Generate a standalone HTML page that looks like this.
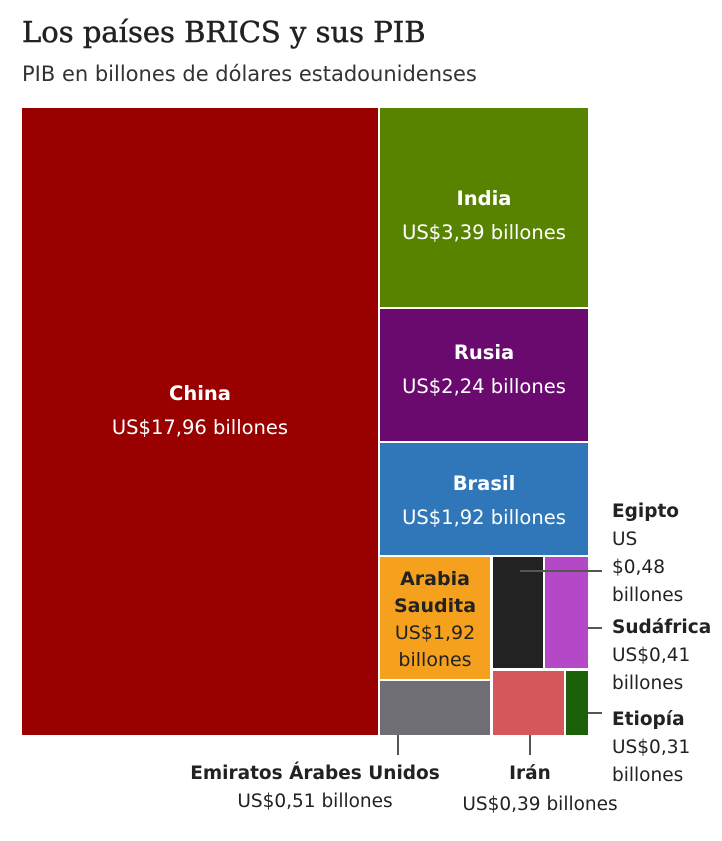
<!DOCTYPE html>
<html><head><meta charset="utf-8"><style>
body{margin:0;width:722px;height:841px;background:#fff;font-family:"DejaVu Sans",sans-serif;position:relative;overflow:hidden;color:#222}
.a{position:absolute}
.r{position:absolute;}
.t{position:absolute;text-align:center;font-size:19.5px;line-height:34px}
.b{font-weight:bold}
.lab{position:absolute;font-size:18.5px;line-height:28px;color:#222}
.ln{position:absolute;background:#555}
</style></head><body>
<div class="a" style="left:22px;top:15px;font-family:'DejaVu Serif',serif;font-size:29px;color:#222;-webkit-text-stroke:0.5px #222">Los países BRICS y sus PIB</div>
<div class="a" style="left:22px;top:62px;font-size:21px;color:#333">PIB en billones de dólares estadounidenses</div>

<div class="r" style="left:22px;top:108px;width:356px;height:627px;background:#990000"></div>
<div class="t" style="left:22px;top:377px;width:356px;color:#fff"><span class="b">China</span><br>US$17,96 billones</div>

<div class="r" style="left:380px;top:108px;width:208px;height:199px;background:#588300"></div>
<div class="t" style="left:380px;top:182px;width:208px;color:#fff"><span class="b">India</span><br>US$3,39 billones</div>

<div class="r" style="left:380px;top:309px;width:208px;height:132px;background:#6a0a6e"></div>
<div class="t" style="left:380px;top:336px;width:208px;color:#fff"><span class="b">Rusia</span><br>US$2,24 billones</div>

<div class="r" style="left:380px;top:443px;width:208px;height:112px;background:#2f77b8"></div>
<div class="t" style="left:380px;top:467px;width:208px;color:#fff"><span class="b">Brasil</span><br>US$1,92 billones</div>

<div class="r" style="left:380px;top:557px;width:110px;height:122px;background:#f5a11e"></div>
<div class="a" style="left:380px;top:566px;width:110px;text-align:center;font-size:19px;line-height:27px;color:#222"><span class="b">Arabia<br>Saudita</span><br>US$1,92<br>billones</div>
<div class="r" style="left:493px;top:557px;width:50px;height:111px;background:#222"></div>
<div class="r" style="left:545px;top:557px;width:43px;height:111px;background:#b548c6"></div>
<div class="r" style="left:380px;top:681px;width:110px;height:54px;background:#6e6e74"></div>
<div class="r" style="left:493px;top:671px;width:71px;height:64px;background:#d5575c"></div>
<div class="r" style="left:566px;top:671px;width:22px;height:64px;background:#1c6109"></div>

<div class="ln" style="left:520px;top:570px;width:82px;height:2px"></div>
<div class="ln" style="left:588px;top:627px;width:14px;height:2px"></div>
<div class="ln" style="left:588px;top:712px;width:14px;height:2px"></div>
<div class="ln" style="left:397px;top:735px;width:2px;height:20px"></div>
<div class="ln" style="left:529px;top:735px;width:2px;height:20px"></div>

<div class="lab" style="left:612px;top:498px"><span class="b">Egipto</span><br>US<br>$0,48<br>billones</div>
<div class="lab" style="left:612px;top:614px"><span class="b">Sudáfrica</span><br>US$0,41<br>billones</div>
<div class="lab" style="left:612px;top:706px"><span class="b">Etiopía</span><br>US$0,31<br>billones</div>
<div class="lab" style="left:150px;top:760px;width:330px;text-align:center;line-height:28px"><span class="b">Emiratos Árabes Unidos</span><br>US$0,51 billones</div>
<div class="lab" style="left:440px;top:760px;width:180px;text-align:center"><span class="b">Irán</span></div>
<div class="lab" style="left:430px;top:791px;width:220px;text-align:center">US$0,39 billones</div>
</body></html>
